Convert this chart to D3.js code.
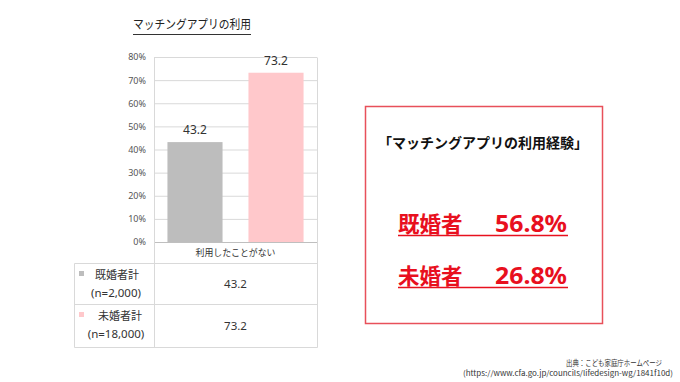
<!DOCTYPE html>
<html><head><meta charset="utf-8">
<script src="https://cdn.jsdelivr.net/npm/d3@7"></script>
<style>
html,body{margin:0;padding:0;background:#fff;}
svg{display:block;font-family:"Noto Sans CJK JP","Noto Sans",sans-serif;}
</style></head>
<body>
<script>
const title = "マッチングアプリの利用";
const categories = ["利用したことがない"];
const seriesNames = ["既婚者計", "未婚者計"];
const seriesN = ["(n=2,000)", "(n=18,000)"];
const seriesValues = [43.2, 73.2];
const seriesColors = ["#bdbdbd", "#ffc8cb"];
const yTicks = [0, 10, 20, 30, 40, 50, 60, 70, 80];
const calloutTitle = "「マッチングアプリの利用経験」";
const calloutLabels = ["既婚者", "未婚者"];
const calloutValues = [56.8, 26.8];
const sourceLines = ["出典：こども家庭庁ホームページ", "(https://www.cfa.go.jp/councils/lifedesign-wg/1841f10d)"];

const W = 680, H = 382;
const svg = d3.select("body").append("svg").attr("width", W).attr("height", H);

const plotL = 154, plotR = 317, plotT = 57, plotB = 242;
const y = d3.scaleLinear().domain([0, 80]).range([plotB, plotT]);
const xCat = d3.scaleBand().domain(categories).range([plotL, plotR]);
const xSer = d3.scaleBand().domain(seriesNames).range([0, xCat.bandwidth()]).paddingInner(0.32).paddingOuter(0.166);

// title
svg.append("text").attr("x", 133).attr("y", 29).attr("font-size", 12.5).attr("fill", "#222")
  .attr("textLength", 118).attr("lengthAdjust", "spacingAndGlyphs").text(title);
svg.append("line").attr("x1", 133).attr("x2", 251).attr("y1", 34.5).attr("y2", 34.5).attr("stroke", "#333").attr("stroke-width", 1);

// grid
svg.append("g").selectAll("line").data(yTicks.filter(d => d > 0)).join("line")
  .attr("x1", plotL).attr("x2", plotR).attr("y1", d => y(d) + 0.5).attr("y2", d => y(d) + 0.5)
  .attr("stroke", "#d9d9d9").attr("stroke-width", 1);

// y axis labels
const yAxis = d3.axisLeft(y).tickValues(yTicks).tickFormat(d => d + "%").tickSize(0).tickPadding(8);
const ya = svg.append("g").attr("transform", `translate(${plotL},0)`).call(yAxis);
ya.select(".domain").remove();
ya.selectAll("text").attr("font-size", 9).attr("fill", "#555").attr("font-family", "'Noto Sans','Noto Sans CJK JP',sans-serif");

// bars
const bars = svg.append("g");
seriesNames.forEach((s, i) => {
  const cx = xCat(categories[0]) + xSer(s);
  bars.append("rect").attr("x", cx).attr("y", y(seriesValues[i]))
    .attr("width", xSer.bandwidth()).attr("height", y(0) - y(seriesValues[i]))
    .attr("fill", seriesColors[i]);
  bars.append("text").attr("x", cx + xSer.bandwidth() / 2).attr("y", y(seriesValues[i]) - 8)
    .attr("text-anchor", "middle").attr("font-size", 12).attr("fill", "#333")
    .attr("font-family", "'Noto Sans',sans-serif").text(seriesValues[i].toFixed(1));
});

// baseline
svg.append("line").attr("x1", plotL).attr("x2", plotR).attr("y1", plotB + 0.5).attr("y2", plotB + 0.5).attr("stroke", "#bfbfbf");

// table / frame lines
const tblL = 74, tblTop = 263, rowMid = 304, tblBot = 347;
const lineC = "#d9d9d9";
const lines = [
  [plotL, plotT, plotL, tblBot], [plotR, plotT, plotR, tblBot],
  [tblL, tblTop, tblL, tblBot],
  [tblL, tblTop, plotR, tblTop], [tblL, rowMid, plotR, rowMid], [tblL, tblBot, plotR, tblBot]
];
svg.append("g").selectAll("line").data(lines).join("line")
  .attr("x1", d => d[0] + 0.5).attr("y1", d => d[1] + 0.5).attr("x2", d => d[2] + 0.5).attr("y2", d => d[3] + 0.5)
  .attr("stroke", lineC).attr("stroke-width", 1);

// category label
svg.append("text").attr("x", xCat(categories[0]) + xCat.bandwidth() / 2).attr("y", 256)
  .attr("text-anchor", "middle").attr("font-size", 9.5).attr("fill", "#333")
  .attr("textLength", 80).attr("lengthAdjust", "spacingAndGlyphs").text(categories[0]);

// table rows
const rowTops = [tblTop, rowMid];
const rowH = [rowMid - tblTop, tblBot - rowMid];
seriesNames.forEach((s, i) => {
  const top = rowTops[i];
  svg.append("rect").attr("x", 79).attr("y", top + 8).attr("width", 5).attr("height", 5).attr("fill", seriesColors[i]);
  svg.append("text").attr("x", i === 0 ? 95 : 98).attr("y", top + 16).attr("font-size", 11).attr("fill", "#333").text(s);
  svg.append("text").attr("x", 116).attr("y", top + 34).attr("text-anchor", "middle").attr("font-size", 11.5).attr("fill", "#333")
    .attr("font-family", "'Noto Sans',sans-serif").text(seriesN[i]);
  svg.append("text").attr("x", (plotL + plotR) / 2).attr("y", top + rowH[i] / 2 + 4).attr("text-anchor", "middle")
    .attr("font-size", 11.5).attr("fill", "#333").attr("font-family", "'Noto Sans',sans-serif").text(seriesValues[i].toFixed(1));
});

// callout box
svg.append("rect").attr("x", 365.5).attr("y", 106.5).attr("width", 237).attr("height", 217)
  .attr("fill", "none").attr("stroke", "#e8505a").attr("stroke-width", 1.5);
svg.append("text").attr("x", 483).attr("y", 148).attr("text-anchor", "middle").attr("font-size", 14)
  .attr("font-weight", "bold").attr("fill", "#111").text(calloutTitle);
const cy = [232, 284];
calloutLabels.forEach((l, i) => {
  svg.append("text").attr("x", 398).attr("y", cy[i]).attr("font-size", 21.5).attr("font-weight", "bold").attr("fill", "#e8101e").text(l);
  svg.append("text").attr("x", 567).attr("y", cy[i]).attr("text-anchor", "end").attr("font-size", 22.5).attr("font-weight", "bold")
    .attr("fill", "#e8101e").attr("font-family", "'Noto Sans','Noto Sans CJK JP',sans-serif")
    .attr("textLength", 72).attr("lengthAdjust", "spacingAndGlyphs").text(calloutValues[i].toFixed(1) + "%");
  svg.append("line").attr("x1", 398).attr("x2", 568).attr("y1", cy[i] + 3.5).attr("y2", cy[i] + 3.5)
    .attr("stroke", "#e8101e").attr("stroke-width", 1.5);
});

// source
svg.append("text").attr("x", 662).attr("y", 366).attr("text-anchor", "end").attr("font-size", 7.5).attr("fill", "#333")
  .attr("textLength", 96).attr("lengthAdjust", "spacingAndGlyphs").text(sourceLines[0]);
svg.append("text").attr("x", 673).attr("y", 376).attr("text-anchor", "end").attr("font-size", 7.5).attr("fill", "#333")
  .attr("textLength", 210).attr("lengthAdjust", "spacingAndGlyphs").text(sourceLines[1]);
</script>
</body></html>
